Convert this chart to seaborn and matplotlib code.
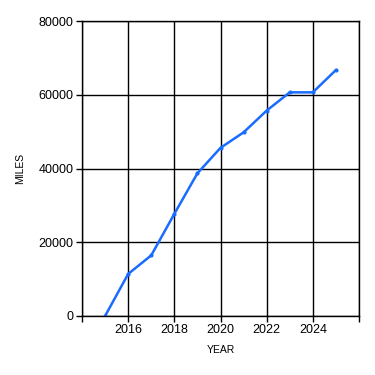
import matplotlib
matplotlib.use("Agg")
import matplotlib.pyplot as plt
import seaborn as sns
import pandas as pd

years = [2015, 2016, 2017, 2018, 2019, 2020, 2021, 2022, 2023, 2024, 2025]
miles = [0, 11400, 16450, 27700, 38700, 45600, 49800, 55700, 60650, 60650, 66700]
x_ticks = [2014, 2016, 2018, 2020, 2022, 2024, 2026]
x_tick_labels = ["", "2016", "2018", "2020", "2022", "2024", ""]
y_ticks = [0, 20000, 40000, 60000, 80000]

df = pd.DataFrame({"YEAR": years, "MILES": miles})

sns.set_style("white")
plt.rcParams["font.family"] = ["Liberation Sans", "DejaVu Sans"]
plt.rcParams["text.color"] = "black"
plt.rcParams["axes.labelcolor"] = "black"
plt.rcParams["xtick.color"] = "black"
plt.rcParams["ytick.color"] = "black"

fig = plt.figure(figsize=(3.75, 3.75), dpi=100)
ax = fig.add_axes([82/375, 1 - 316/375, (359 - 82)/375, (316 - 21)/375])

sns.lineplot(data=df, x="YEAR", y="MILES", ax=ax, color="#1a6cff", linewidth=1.8,
             marker="o", markersize=3, markeredgewidth=0)

ax.set_xlim(2014, 2026)
ax.set_ylim(0, 80000)
ax.set_xticks(x_ticks)
ax.set_xticklabels(x_tick_labels)
ax.set_yticks(y_ticks)
ax.set_yticklabels([str(v) for v in y_ticks])
ax.grid(True, color="black", linewidth=1)
ax.set_axisbelow(True)
for s in ax.spines.values():
    s.set_color("black")
    s.set_linewidth(1)
ax.tick_params(axis="both", direction="out", length=4, width=1, color="black",
               labelcolor="black", labelsize=9, pad=2, bottom=True, left=True)
ax.set_xlabel("YEAR", fontsize=7.5, labelpad=6, color="black")
ax.set_ylabel("MILES", fontsize=7.5, labelpad=10, color="black")

fig.savefig("out.png", dpi=100, facecolor="white")
